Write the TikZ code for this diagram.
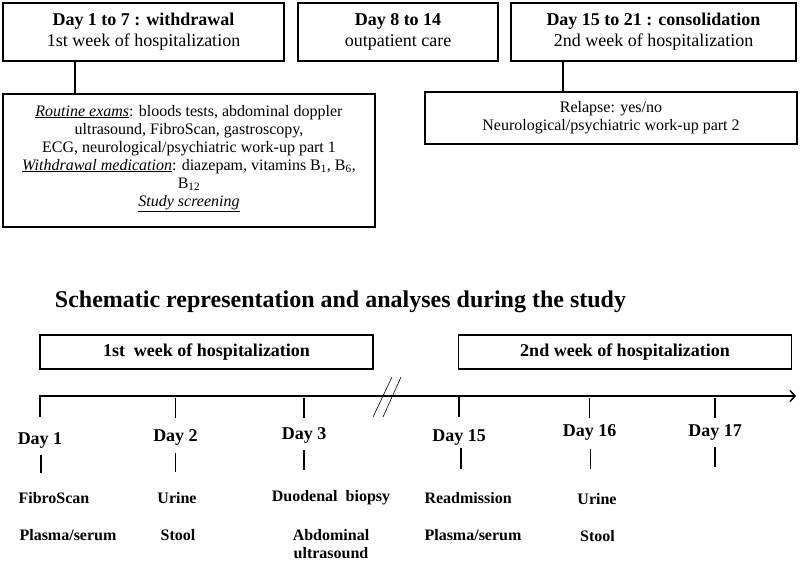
\documentclass[tikz,border=0pt]{standalone}
\usepackage{fontspec}
\setmainfont{Liberation Serif}
\usetikzlibrary{
    arrows.meta,  % For arrow tips
    positioning,  % For relative placement
}

\begin{document}
\begin{tikzpicture}[
    x=1pt, y=-1pt, % 1 unit = 1 pixel, y grows downwards
    >={Straight Barb[length=5pt, width=11pt]}, % Open arrow tip of the time axis
    box/.style={draw, line width=1.2pt, align=center, inner sep=0pt}, % Base style for boxes
    phasebox/.style={box, minimum height=58pt, font=\fontsize{18}{21}\selectfont}, % Top phase boxes
    infobox/.style={box, minimum width=372pt, font=\fontsize{16}{18}\selectfont}, % Details under a phase
    weekbox/.style={box, minimum width=333pt, minimum height=34pt, font=\bfseries\fontsize{18}{21}\selectfont},
    link/.style={line width=1.2pt},  % Phase box to details box
    axis/.style={->, line width=1.5pt}, % Time axis
    tickmark/.style={line width=1.8pt}, % Short day ticks
    breakmark/.style={line width=0.6pt}, % The // on the axis
    title/.style={font=\bfseries\fontsize{24}{28}\selectfont},
    daylabel/.style={font=\bfseries\fontsize{18}{21}\selectfont},
    sample/.style={font=\bfseries\fontsize{16}{18}\selectfont, align=center}
]

    % Page size
    \useasboundingbox[fill=white] (0,0) rectangle (800,561);

    % --- Study phases ---
    \node[phasebox, minimum width=281pt] (withdrawal) at (143.5,32)
        {\textbf{Day 1 to 7 : withdrawal}\\1st week of hospitalization};
    \node[phasebox, minimum width=200pt] (outpatient) at (398,32)
        {\textbf{Day 8 to 14}\\outpatient care};
    \node[phasebox, minimum width=285pt] (consolidation) at (653.5,32)
        {\textbf{Day 15 to 21 : consolidation}\\2nd week of hospitalization};

    \node[infobox, minimum height=133pt] (exams) at (189,160.5)
        {\underline{\textit{Routine exams}}: bloods tests, abdominal doppler\\
         ultrasound, FibroScan, gastroscopy,\\
         ECG, neurological/psychiatric work-up part 1\\
         \underline{\textit{Withdrawal medication}}: diazepam, vitamins B\textsubscript{1}, B\textsubscript{6},\\
         B\textsubscript{12}\\
         \underline{\textit{Study screening}}\\[-8pt]};
    \node[infobox, minimum height=52pt] (relapse) at (611,118)
        {Relapse: yes/no\\Neurological/psychiatric work-up part 2};

    \coordinate (link1) at (75,0);
    \coordinate (link2) at (563,0);
    \draw[link] (withdrawal.south -| link1) -- (exams.north -| link1);
    \draw[link] (consolidation.south -| link2) -- (relapse.north -| link2);

    % --- Schematic of the study ---
    \node[title] (schema) at (340.5,302) {Schematic representation and analyses during the study};

    \node[weekbox] (week1) at (206.5,352) {1st~ week of hospitalization};
    \node[weekbox] (week2) at (625,352) {2nd week of hospitalization};

    % Time axis
    \coordinate (ax0) at (40,396);
    \coordinate (ax1) at (796,396);
    \draw[axis] (ax0) ++(0,21) -- (ax0) -- (ax1);
    \coordinate (brk) at (387,397);
    \draw[breakmark] (brk) ++(-14,20) -- ++(19,-40);
    \draw[breakmark] (brk) ++(-4,20) -- ++(18,-40);

    % Days
    \node[daylabel] (d1) at (40,440) {Day 1};
    \node[daylabel] (d2) at (175.5,437) {Day 2};
    \node[daylabel] (d3) at (304,435) {Day 3};
    \node[daylabel] (d15) at (459,437) {Day 15};
    \node[daylabel] (d16) at (589.5,432) {Day 16};
    \node[daylabel] (d17) at (715,432) {Day 17};

    % Ticks above and below the day labels
    \draw[tickmark] (d2 |- ax0) ++(0,2) -- ++(0,20);
    \draw[tickmark] (d3 |- ax0) ++(0,2) -- ++(0,20);
    \draw[tickmark] (d15 |- ax0) ++(0,1) -- ++(0,20);
    \draw[tickmark] (d16 |- ax0) ++(0,2) -- ++(0,20);
    \draw[tickmark] (d17 |- ax0) ++(0,2) -- ++(0,20);
    \draw[tickmark] (d1.center) ++(1,15) -- ++(0,18);
    \draw[tickmark] (d2.center) ++(0,16) -- ++(0,19);
    \draw[tickmark] (d3.center) ++(0,15) -- ++(0,20);
    \draw[tickmark] (d15.center) ++(2,11) -- ++(0,21);
    \draw[tickmark] (d16.center) ++(1,17) -- ++(0,20);
    \draw[tickmark] (d17.center) ++(0,15) -- ++(0,20);

    % Samples and analyses
    \node[sample, anchor=west] (fibro) at (15,498) {FibroScan};
    \node[sample, anchor=west] (plasma1) at (16,535) {Plasma/serum};
    \node[sample] (urine1) at (177,498) {Urine};
    \node[sample] (stool1) at (178,535) {Stool};
    \node[sample] (biopsy) at (331,498) {Duodenal~ biopsy};
    \node[sample] (abdo) at (331,544) {Abdominal\\ultrasound};
    \node[sample, anchor=west] (readmission) at (421,498) {Readmission};
    \node[sample, anchor=west] (plasma2) at (421,535) {Plasma/serum};
    \node[sample] (urine2) at (597,499) {Urine};
    \node[sample] (stool2) at (597.5,536) {Stool};

\end{tikzpicture}
\end{document}
